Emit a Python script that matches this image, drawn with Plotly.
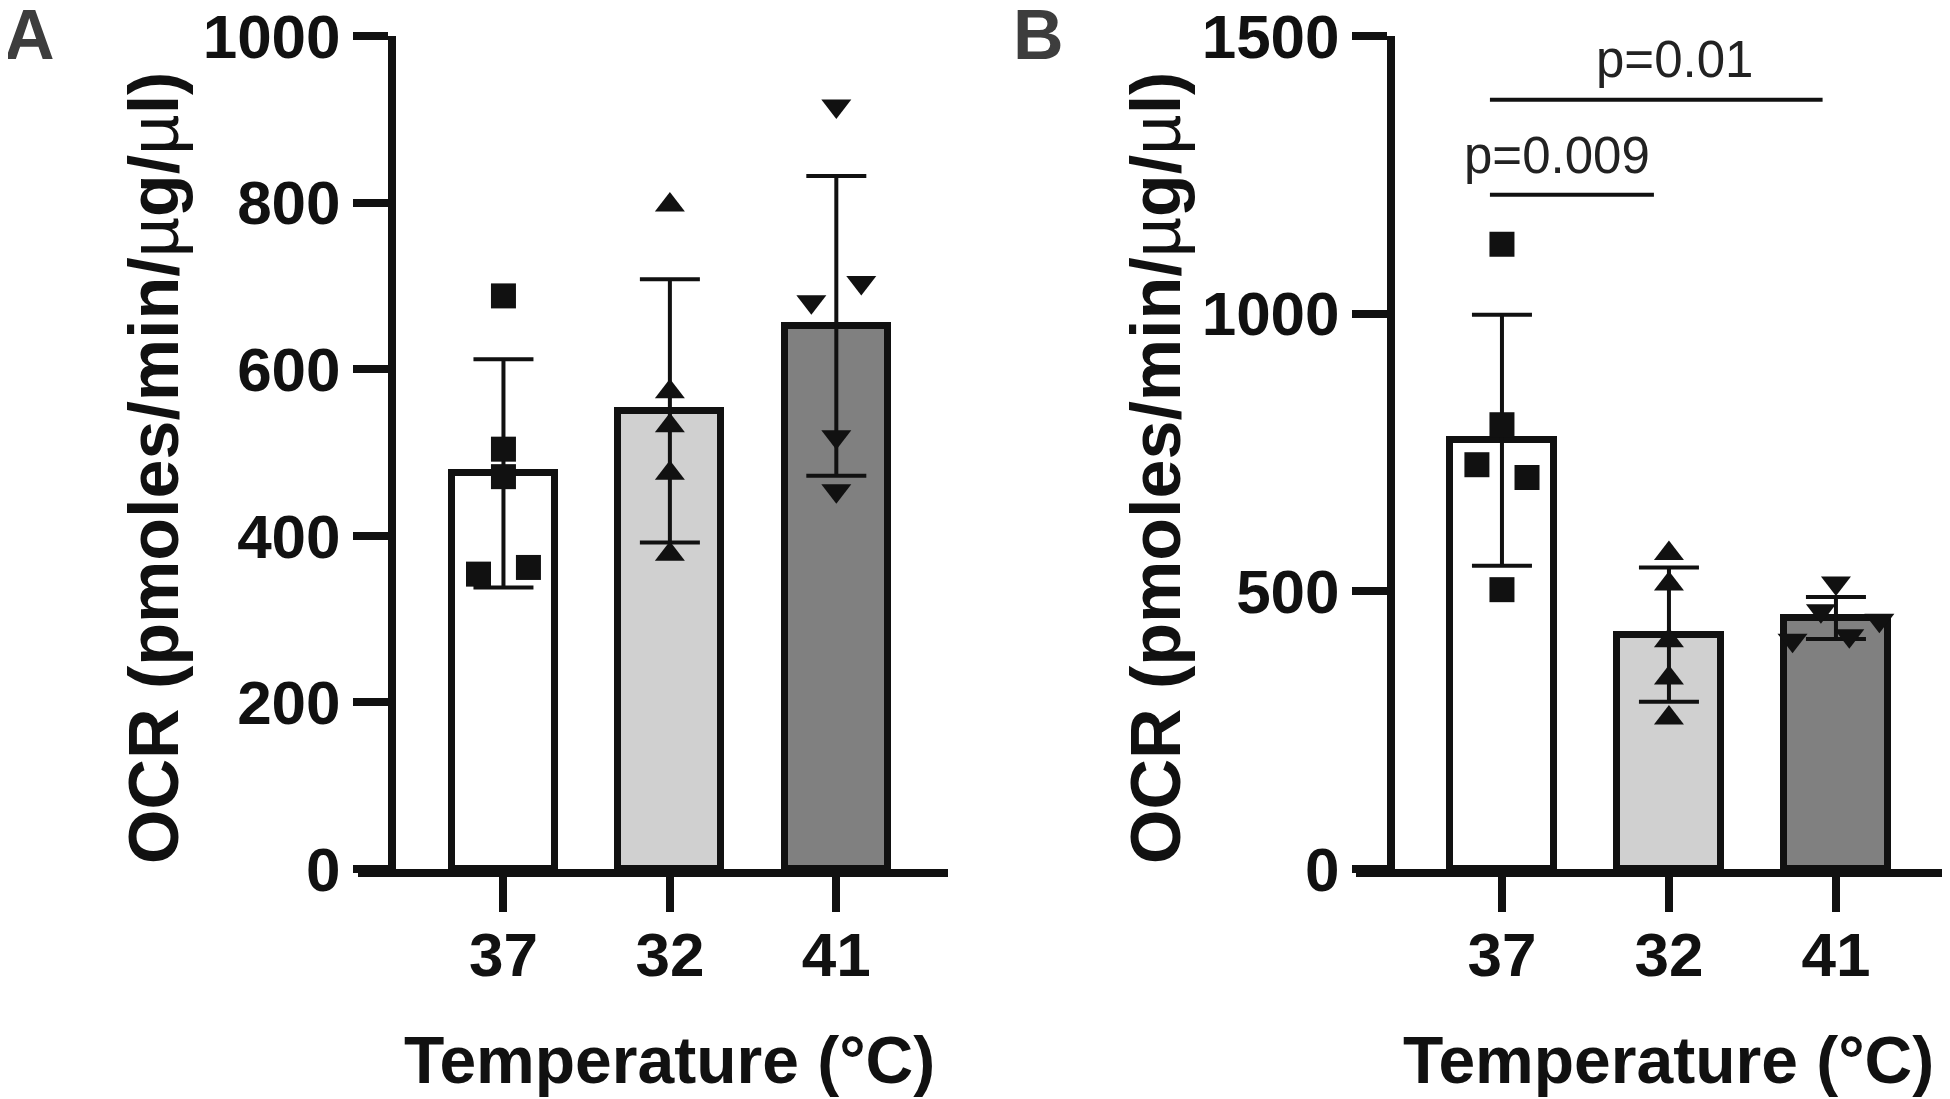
import plotly.graph_objects as go

W, H = 1950, 1099
OFF = 8  # page body margin of the html page

# ---------------- data ----------------
categories = ["37", "32", "41"]
bar_colors = ["#ffffff", "#d0d0d0", "#808080"]

# Panel A
a_means = [475, 550, 652]
a_sd = [137, 158, 180]
a_37 = [688, 504, 471, 354, 362]
a_32 = [797, 573, 532, 475, 378]
a_41 = [916, 704, 681, 519, 454]
a_37_jit = [0, 0, 0, -0.15, 0.15]
a_32_jit = [0, 0, 0, 0, 0]
a_41_jit = [0, 0.15, -0.15, 0, 0]
a_yticks = [0, 200, 400, 600, 800, 1000]

# Panel B
b_means = [772, 422, 452]
b_sd = [226, 121, 38]
b_37 = [1125, 800, 728, 705, 503]
b_32 = [568, 513, 411, 344, 272]
b_41 = [515, 465, 420, 448, 412]
b_37_jit = [0, 0, -0.15, 0.15, 0]
b_32_jit = [0, 0, 0, 0, 0]
b_41_jit = [0, -0.09, 0.08, 0.26, -0.26]
b_yticks = [0, 500, 1000, 1500]

p_labels = ["p=0.009", "p=0.01"]
p_line_y = [1214, 1385]

# ---------------- styling ----------------
INK = "#111111"
FONT = "Liberation Sans, Arial, Helvetica, sans-serif"
LW = 8

def px_x(p):
    return (p - OFF) / W

def px_y(p):
    return (H - p + OFF) / H

fig = go.Figure()

def add_panel(xa, ya, means, sd, groups, jits, symbols):
    fig.add_trace(go.Bar(
        x=[0, 1, 2], y=means, width=0.62,
        marker=dict(color=bar_colors, line=dict(color=INK, width=7)),
        error_y=dict(type="data", array=sd, visible=True, color=INK,
                     thickness=4, width=30),
        xaxis=xa, yaxis=ya, showlegend=False, hoverinfo="skip"))
    for i, (vals, jit, sym) in enumerate(zip(groups, jits, symbols)):
        size = 25 if sym == "square" else 26
        fig.add_trace(go.Scatter(
            x=[i + j for j in jit], y=vals, mode="markers",
            marker=dict(symbol=sym, size=size, color=INK, line=dict(width=0)),
            xaxis=xa, yaxis=ya, showlegend=False, hoverinfo="skip"))

add_panel("x", "y", a_means, a_sd, [a_37, a_32, a_41],
          [a_37_jit, a_32_jit, a_41_jit],
          ["square", "triangle-up", "triangle-down"])
add_panel("x2", "y2", b_means, b_sd, [b_37, b_32, b_41],
          [b_37_jit, b_32_jit, b_41_jit],
          ["square", "triangle-up", "triangle-down"])

ydom = [px_y(869), px_y(36)]
tickfont = dict(family=FONT, size=62, color=INK, weight="bold")

common_x = dict(tickvals=[0, 1, 2], ticktext=categories, showline=True,
                linewidth=LW, linecolor=INK, ticks="outside", ticklen=35,
                tickwidth=LW, tickcolor=INK, tickfont=tickfont,
                ticklabelstandoff=-10, ticklabeloverflow="allow",
                showgrid=False, zeroline=False, fixedrange=True,
                automargin=False)
common_y = dict(showline=True, linewidth=LW, linecolor=INK, ticks="outside",
                ticklen=35, tickwidth=LW, tickcolor=INK, tickfont=tickfont,
                ticklabeloverflow="allow",
                showgrid=False, zeroline=False, fixedrange=True, domain=ydom,
                anchor="free", automargin=False)

fig.update_layout(
    width=W, height=H, margin=dict(l=0, r=0, t=0, b=0, autoexpand=False),
    paper_bgcolor="white", plot_bgcolor="white", bargap=0,
    xaxis=dict(domain=[px_x(358), px_x(948)], range=[-0.874, 2.671],
               anchor="y", **common_x),
    yaxis=dict(range=[0, 1000], tickvals=a_yticks, position=px_x(392),
               **common_y),
    xaxis2=dict(domain=[px_x(1356), px_x(1945)], range=[-0.874, 2.653],
                anchor="y2", **common_x),
    yaxis2=dict(range=[0, 1500], tickvals=b_yticks, position=px_x(1391),
                **common_y),
)

# significance lines
fig.add_shape(type="line", xref="x2", yref="y2", x0=-0.072, x1=0.91,
              y0=p_line_y[0], y1=p_line_y[0], line=dict(color=INK, width=4))
fig.add_shape(type="line", xref="x2", yref="y2", x0=-0.072, x1=1.92,
              y0=p_line_y[1], y1=p_line_y[1], line=dict(color=INK, width=4))
fig.add_annotation(xref="x2", yref="y2", x=0.33, y=1284, text=p_labels[0],
                   showarrow=False, xanchor="center", yanchor="middle",
                   font=dict(family=FONT, size=51, color="#222222"))
fig.add_annotation(xref="x2", yref="y2", x=1.036, y=1457, text=p_labels[1],
                   showarrow=False, xanchor="center", yanchor="middle",
                   font=dict(family=FONT, size=51, color="#222222"))

# axis titles
mu = "<span style='font-weight:normal'>µ</span>"
ytitle = "OCR (pmoles/min/" + mu + "g/" + mu + "l)"
title_font = dict(family=FONT, size=70, color=INK, weight="bold")
for cx in (154, 1156):
    fig.add_annotation(xref="paper", yref="paper", x=px_x(cx), y=px_y(468),
                       text=ytitle, textangle=-90, showarrow=False,
                       xanchor="center", yanchor="middle", font=title_font)
for xr in ("x", "x2"):
    fig.add_annotation(xref=xr, yref="paper", x=1, y=px_y(1060),
                       text="Temperature (°C)", showarrow=False,
                       xanchor="center", yanchor="middle",
                       font=dict(family=FONT, size=66, color=INK, weight="bold"))

# panel letters
for cx, lab in ((29, "A"), (1038, "B")):
    fig.add_annotation(xref="paper", yref="paper", x=px_x(cx), y=px_y(35),
                       text=lab, showarrow=False, xanchor="center",
                       yanchor="middle",
                       font=dict(family=FONT, size=70, color="#3d3d3d",
                                 weight="bold"))

fig.write_html("out.html")
